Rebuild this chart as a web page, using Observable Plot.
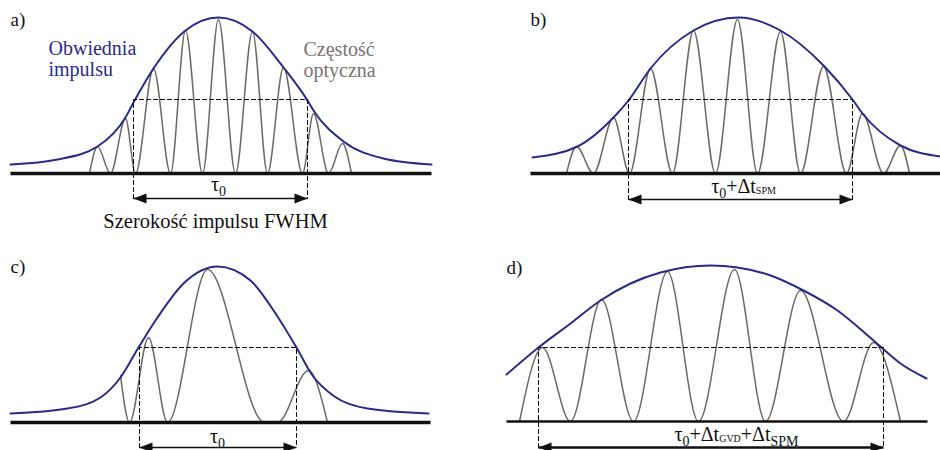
<!DOCTYPE html>
<html><head><meta charset="utf-8">
<script src="https://cdn.jsdelivr.net/npm/d3@7"></script>
<script src="https://cdn.jsdelivr.net/npm/@observablehq/plot@0.6"></script>
<style>body{margin:0;background:#fff} svg{display:block}</style>
</head><body><div id="chart"></div>
<script>
// ---- data (x, y in picture units, y downward) ----
const panels = ["a", "b", "c", "d"];

// pulse envelopes
const envA = [[10,164],[57,159],[97,146],[125,117],[133,102],[153,68],[185,30],[218,17],[252,31],[283,67],[307,100],[313,110],[343,141],[383,158],[431,164]];
const envB = [[532,157],[577,146],[613,117],[628,100],[650,68],[693,30],[738,17],[780,30],[823,65],[852,99],[862,113],[900,145],[940,156]];
const envC = [[10,413],[67,408],[100,397],[120,377],[138,347],[157,317],[183,283],[217,266],[250,280],[277,316],[296,347],[312,375],[334,396],[367,408],[428,413]];
const envD = [[506,374],[538,347],[570,323],[600,300],[630,283],[660,272],[710,265],[737,267],[770,275],[803,290],[837,310],[873,340],[900,363],[926,378]];

// optical carrier extrema (minima on the baseline, maxima)
const waveA = [[89,173],[97,146],[110,173],[125,118],[135,173],[153,68],[170,173],[185,30],[202,173],[218,19],[235,173],[252,31],[267,173],[283,67],[302,173],[313,113],[328,173],[342,143],[351,173]];
const waveB = [[566,173],[576,146],[593,173],[613,117],[629,173],[650,68],[672,173],[693,30],[715,173],[737,19],[757,173],[780,31],[800,173],[823,66],[846,173],[862,113],[883,173],[900,145],[909,173]];
const waveC = [[120,375],[129,422],[148,337],[167,422],[207,269],[264,422],[277,422],[308,370],[327,422]];
const waveD = [[519,421],[542,347],[570,421],[601,299],[633,421],[667,271],[698,421],[734,269],[765,421],[800,290],[843,421],[873,342],[900,421]];

// time axes (baselines): x1, x2, y
const baseX1 = [10, 530, 10, 506];
const baseX2 = [431, 940, 430, 927];
const baseY  = [173, 173, 422, 421];

// pulse width (FWHM) spans: left, right, half-max level, arrow level
const spanL   = [133, 628, 139, 538];
const spanR   = [307, 852, 296, 883];
const spanTop = [99, 99, 347, 347];
const spanY   = [198, 199, 447, 447];

// width labels ( _{..} big subscript, _[..] small subscript )
const widthLabels = ["τ_{0}", "τ_{0}+Δt_[SPM]", "τ_{0}", "τ_{0}+Δt_[GVD]+Δt_{SPM}"];
const widthLabelX = [218, 743, 217, 736];
const widthLabelY = [190, 192, 442, 440];

// panel letters
const panelLabels = ["a)", "b)", "c)", "d)"];
const panelLabelX = [10, 530, 10, 506];
const panelLabelY = [25, 25, 272, 273];

// annotations
const noteText  = ["Obwiednia", "impulsu", "Częstość", "optyczna", "Szerokość impulsu FWHM"];
const noteX     = [48, 48, 303, 303, 215];
const noteY     = [54, 75, 55, 76, 227];
const noteKind  = ["env", "env", "wave", "wave", "black"];

// ---- build tables ----
const envs = [envA, envB, envC, envD];
const waves = [waveA, waveB, waveC, waveD];
const envRows = envs.flatMap((e, i) => e.map(([x, y]) => ({panel: panels[i], x, y})));
const waveRows = waves.flatMap((e, i) => e.map(([x, y]) => ({panel: panels[i], x, y})));
const baseRows = panels.map((p, i) => ({panel: p, x1: baseX1[i], x2: baseX2[i], y: baseY[i]}));
const spanRows = panels.map((p, i) => ({panel: p, l: spanL[i], r: spanR[i], top: spanTop[i], y: spanY[i]}));
const dashRows = spanRows.flatMap(s => [
  {panel: s.panel, x: s.l, y: s.y}, {panel: s.panel, x: s.l, y: s.top},
  {panel: s.panel, x: s.r, y: s.top}, {panel: s.panel, x: s.r, y: s.y}]);
const labelRows = panels.map((p, i) => ({text: widthLabels[i], x: widthLabelX[i], y: widthLabelY[i]}));
const letterRows = panels.map((p, i) => ({text: panelLabels[i], x: panelLabelX[i], y: panelLabelY[i]}));
const noteRows = noteText.map((t, i) => ({text: t, x: noteX[i], y: noteY[i], kind: noteKind[i]}));

const NAVY = "#2b2a88", GRAY = "#6e6866", GRAYTXT = "#7a7370";
const SERIF = "Liberation Serif";

// filled arrow head pointing right, tip at the origin
const head = {draw(ctx) { ctx.moveTo(0, 0); ctx.lineTo(-13, -5); ctx.lineTo(-13, 5); ctx.closePath(); }};

const txt = (data, o) => Plot.text(data, {x: "x", y: "y", text: "text", lineAnchor: "bottom", fontSize: 20, fontFamily: SERIF, ...o});

const chart = Plot.plot({
  width: 940, height: 450, margin: 0,
  x: {domain: [0, 940], range: [0, 940], axis: null},
  y: {domain: [0, 450], range: [0, 450], axis: null},
  marks: [
    Plot.line(waveRows, {x: "x", y: "y", z: "panel", curve: "monotone-x", stroke: GRAY, strokeWidth: 1.5}),
    Plot.line(envRows, {x: "x", y: "y", z: "panel", curve: "monotone-x", stroke: NAVY, strokeWidth: 2}),
    Plot.line(dashRows, {x: "x", y: "y", z: "panel", stroke: "#000", strokeWidth: 1, strokeDasharray: "4,3"}),
    Plot.link(baseRows.filter(d => d.panel !== "d"), {x1: "x1", x2: "x2", y1: "y", y2: "y", stroke: "#111", strokeWidth: 3.4}),
    Plot.link(baseRows.filter(d => d.panel === "d"), {x1: "x1", x2: "x2", y1: "y", y2: "y", stroke: "#111", strokeWidth: 2.4}),
    Plot.link(spanRows.filter(d => d.panel !== "d"), {x1: "l", x2: "r", y1: "y", y2: "y", stroke: "#111", strokeWidth: 1.4}),
    Plot.link(spanRows.filter(d => d.panel === "d"), {x1: "l", x2: "r", y1: "y", y2: "y", stroke: "#111", strokeWidth: 2.4}),
    Plot.dot(spanRows, {x: "r", y: "y", symbol: head, rotate: 0, fill: "#111", stroke: "none"}),
    Plot.dot(spanRows, {x: "l", y: "y", symbol: head, rotate: 180, fill: "#111", stroke: "none"}),
    txt(labelRows, {textAnchor: "middle", fill: "#111"}),
    txt(letterRows, {textAnchor: "start", fontSize: 19, fill: "#111"}),
    txt(noteRows.filter(d => d.kind === "env"), {textAnchor: "start", fill: NAVY}),
    txt(noteRows.filter(d => d.kind === "wave"), {textAnchor: "start", fill: GRAYTXT}),
    txt(noteRows.filter(d => d.kind === "black"), {textAnchor: "middle", fontSize: 20.5, fill: "#111"})
  ]
});

// turn _{..} / _[..] markup into real subscript tspans
chart.querySelectorAll("text").forEach(t => {
  const s = t.textContent;
  if (!/_[\{\[]/.test(s)) return;
  const parts = s.split(/(_\{[^}]*\}|_\[[^\]]*\])/).filter(p => p);
  while (t.firstChild) t.removeChild(t.firstChild);
  let cur = 0;
  for (const p of parts) {
    const ts = document.createElementNS("http://www.w3.org/2000/svg", "tspan");
    let shift = 0, size = null, str = p;
    if (p.startsWith("_{")) { shift = 5; size = 14; str = p.slice(2, -1); }
    else if (p.startsWith("_[")) { shift = 1; size = 10; str = p.slice(2, -1); }
    ts.setAttribute("dy", shift - cur); cur = shift;
    if (size) ts.setAttribute("font-size", size);
    ts.textContent = str;
    t.appendChild(ts);
  }
});

document.getElementById("chart").appendChild(chart);
</script>
</body></html>
